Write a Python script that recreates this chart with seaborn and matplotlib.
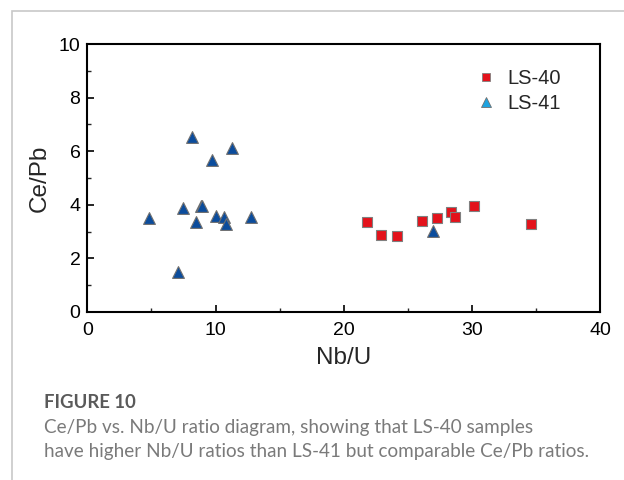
import matplotlib
matplotlib.use("Agg")
import matplotlib.pyplot as plt
import seaborn as sns
import pandas as pd
from matplotlib.lines import Line2D
from matplotlib.patches import Rectangle

# Data
ls40_nbu = [21.8, 22.9, 24.2, 26.1, 27.3, 28.4, 28.7, 30.2, 34.6]
ls40_cepb = [3.35, 2.87, 2.84, 3.38, 3.49, 3.74, 3.53, 3.95, 3.28]
ls41_nbu = [4.8, 7.45, 8.16, 8.48, 8.85, 8.95, 9.69, 10.0, 10.7, 10.8, 11.27, 12.73, 7.05, 27.0]
ls41_cepb = [3.49, 3.87, 6.52, 3.37, 3.97, 3.94, 5.67, 3.58, 3.53, 3.30, 6.13, 3.55, 1.50, 3.03]
groups = ["LS-40", "LS-41"]
x_ticks = [0, 10, 20, 30, 40]
y_ticks = [0, 2, 4, 6, 8, 10]

df = pd.DataFrame({
    "Nb/U": ls40_nbu + ls41_nbu,
    "Ce/Pb": ls40_cepb + ls41_cepb,
    "group": [groups[0]] * len(ls40_nbu) + [groups[1]] * len(ls41_nbu),
})

sns.set_theme(style="white")
plt.rcParams['font.family'] = ['Liberation Sans', 'DejaVu Sans']

fig = plt.figure(figsize=(6.24, 4.8), dpi=100)
fig.patch.set_facecolor("white")
# figure frame
fig.patches.append(Rectangle((12 / 624, -0.1), 1.2, 1 - 11 / 480 + 0.1,
                             transform=fig.transFigure, fill=False,
                             edgecolor="#c8c8c8", linewidth=1.2))

ax = fig.add_axes([0.140, 0.35, 0.8215, 0.5583])
sns.scatterplot(data=df[df.group == "LS-40"], x="Nb/U", y="Ce/Pb", ax=ax,
                marker="s", color="#e3121b", edgecolor="#808080",
                linewidth=0.8, s=50, legend=False, zorder=3)
sns.scatterplot(data=df[df.group == "LS-41"], x="Nb/U", y="Ce/Pb", ax=ax,
                marker="^", color="#0b4c9c", edgecolor="#707070",
                linewidth=0.8, s=72, legend=False, zorder=3)

ax.set_xlim(0, 40)
ax.set_ylim(0, 10)
ax.set_xticks(x_ticks)
ax.set_yticks(y_ticks)
ax.set_xticks([5, 15, 25, 35], minor=True)
ax.set_yticks([1, 3, 5, 7, 9], minor=True)
ax.tick_params(axis="both", which="major", direction="in", length=5, width=1.2,
               labelsize=14, colors="black", bottom=True, left=True,
               top=False, right=False)
ax.tick_params(axis="x", which="major", pad=7)
ax.tick_params(axis="y", which="major", pad=5)
ax.tick_params(axis="both", which="minor", direction="in", length=3, width=1.0,
               bottom=True, left=True, top=False, right=False)
for sp in ax.spines.values():
    sp.set_color("black")
    sp.set_linewidth(1.5)
ax.set_xlabel("Nb/U", fontsize=17.5, labelpad=6)
ax.set_ylabel("Ce/Pb", fontsize=17.5, labelpad=6)

handles = [
    Line2D([], [], linestyle="none", marker="s", markersize=6,
           markerfacecolor="#e3121b", markeredgecolor="#808080",
           markeredgewidth=0.6, label="LS-40"),
    Line2D([], [], linestyle="none", marker="^", markersize=7,
           markerfacecolor="#1ea3e0", markeredgecolor="#707070",
           markeredgewidth=0.6, label="LS-41"),
]
ax.legend(handles=handles, loc="upper right", bbox_to_anchor=(0.96, 0.975),
          frameon=False, fontsize=14.5, handletextpad=0.6, labelspacing=0.3,
          handlelength=1.0)

cap_font = ["Lato", "DejaVu Sans"]
fig.text(44 / 624, 1 - 402 / 480, "FIGURE 10", fontsize=13.3, fontweight="bold",
         color="#5a5a5a", family=cap_font, va="center")
fig.text(44 / 624, 1 - 427 / 480,
         "Ce/Pb vs. Nb/U ratio diagram, showing that LS-40 samples",
         fontsize=13.6, color="#7a7a7a", family=cap_font, va="center")
fig.text(44 / 624, 1 - 451 / 480,
         "have higher Nb/U ratios than LS-41 but comparable Ce/Pb ratios.",
         fontsize=13.6, color="#7a7a7a", family=cap_font, va="center")

fig.savefig("out.png", dpi=100)
